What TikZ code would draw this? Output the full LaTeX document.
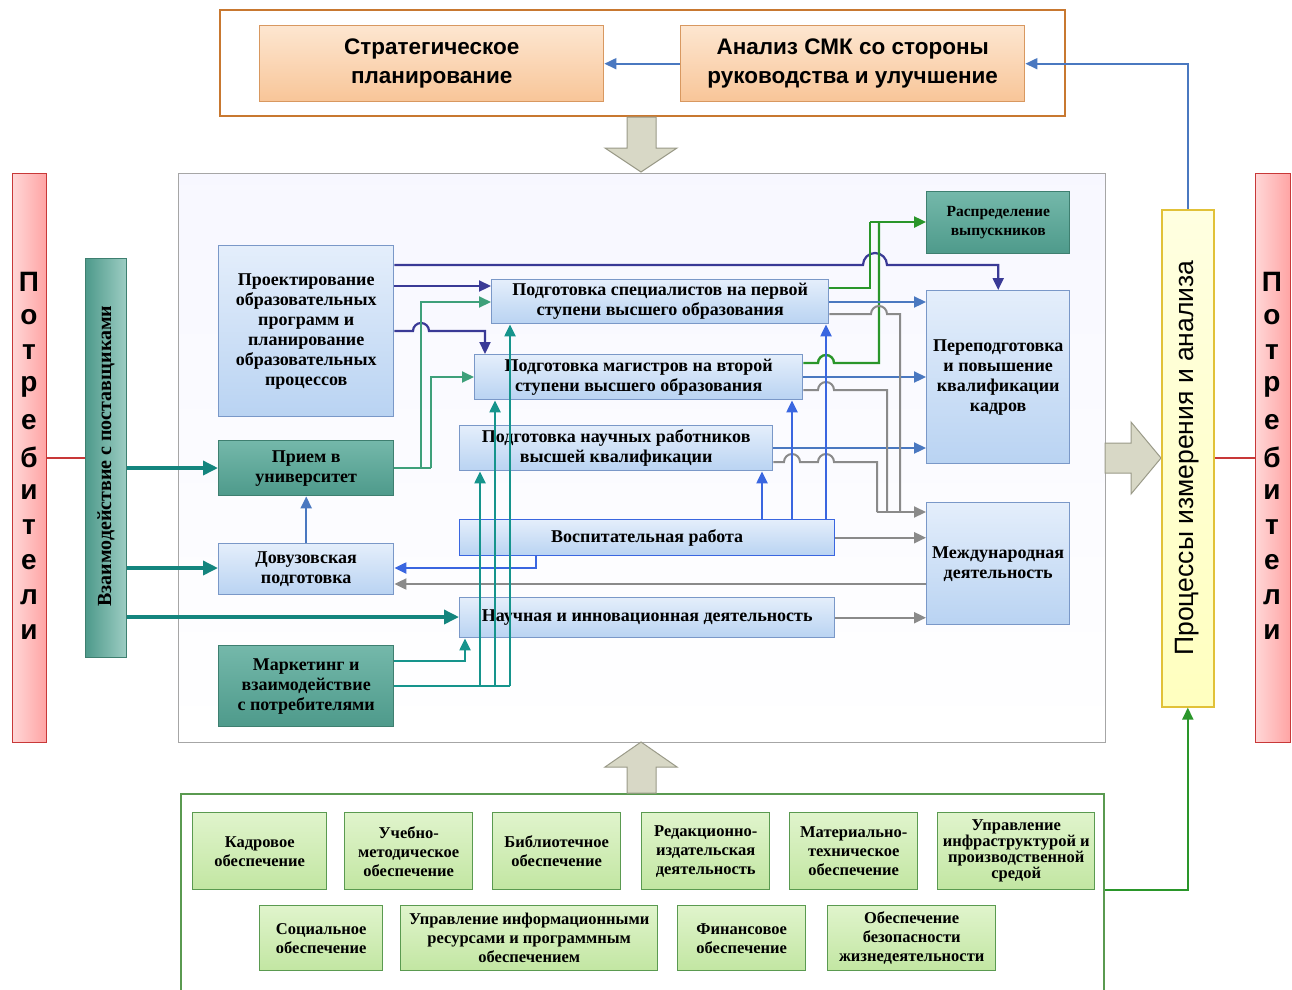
\documentclass[tikz,border=0pt]{standalone}
\usepackage{fontspec}
\setmainfont{Liberation Serif}
\newfontfamily\sansf{Liberation Sans}
\usetikzlibrary{arrows.meta}
\definecolor{navyc}{HTML}{3A3A96}
\definecolor{greenc}{HTML}{3EA07A}
\definecolor{dgreenc}{HTML}{2A962A}
\definecolor{bluec}{HTML}{4A78C0}
\definecolor{bluevc}{HTML}{3A66E0}
\definecolor{grayc}{HTML}{8A8A8A}
\definecolor{tealc}{HTML}{16948C}
\definecolor{redc}{HTML}{C83838}
\definecolor{lbdraw}{HTML}{7A98C8}
\definecolor{lbtop}{HTML}{E4EEFB}
\definecolor{lbbot}{HTML}{B9D3F2}
\definecolor{tltop}{HTML}{74B8AA}
\definecolor{tlbot}{HTML}{4E9A8B}
\definecolor{tldraw}{HTML}{3E7F70}
\definecolor{gntop}{HTML}{E0F4CC}
\definecolor{gnbot}{HTML}{C2E6A2}
\definecolor{gndraw}{HTML}{5A9A50}
\definecolor{ortop}{HTML}{FDE6D0}
\definecolor{orbot}{HTML}{F8C598}
\definecolor{ordraw}{HTML}{D89860}
\definecolor{outor}{HTML}{C87830}
\definecolor{arrfill}{HTML}{D8D8C6}
\definecolor{arrdraw}{HTML}{9A9A88}
\newcommand\mybox[7]{\node[#2, minimum width=#5pt, minimum height=#6pt] (#1) at (#3,#4) {#7};}
\begin{document}
\begin{tikzpicture}[x=1pt,y=-1pt,
  tip/.style={-{Triangle[length=12pt,width=11pt]}},
  bigtip/.style={-{Triangle[length=15pt,width=14pt]}},
  bx/.style={anchor=north west, inner sep=1pt, align=center, font=\bfseries\fontsize{18}{20}\selectfont, line width=1.4pt},
  lb/.style={bx, draw=lbdraw, top color=lbtop, bottom color=lbbot},
  tl/.style={bx, draw=tldraw, top color=tltop, bottom color=tlbot},
  gn/.style={bx, draw=gndraw, top color=gntop, bottom color=gnbot, font=\bfseries\fontsize{16.5}{19}\selectfont},
  orb/.style={bx, draw=ordraw, top color=ortop, bottom color=orbot, font=\sansf\bfseries\fontsize{22.5}{29}\selectfont},
  potlet/.style={font=\sansf\bfseries\fontsize{28}{28}\selectfont, inner sep=0pt},
  bigarr/.style={fill=arrfill, draw=arrdraw, line width=1pt},
  navyl/.style={draw=navyc, line width=2.2pt},
  greenl/.style={draw=greenc, line width=2pt},
  dgreenl/.style={draw=dgreenc, line width=2.4pt},
  bluel/.style={draw=bluec, line width=2.2pt},
  bluevl/.style={draw=bluevc, line width=2.2pt},
  grayl/.style={draw=grayc, line width=2pt},
  teall/.style={draw=tealc, line width=2.2pt},
  tealthick/.style={draw=tealc!90!black, line width=3.5pt},
  redl/.style={draw=redc, line width=2pt}
]
\useasboundingbox (0,0) rectangle (1292,989);
\fill[white] (0,0) rectangle (1292,989);

% top block
\node[anchor=north west, draw=outor, line width=1.6pt, fill=white, minimum width=845pt, minimum height=106pt, inner sep=0pt] (topbox) at (219,9) {};
\mybox{strat}{orb}{259}{25}{344}{76}{Стратегическое\\планирование}
\mybox{anal}{orb}{680}{25}{344}{76}{Анализ СМК со стороны\\руководства и улучшение}

% middle frame
\node[anchor=north west, draw=gray!70, line width=1.2pt, top color=blue!3, bottom color=white, minimum width=927pt, minimum height=569pt, inner sep=0pt] (mid) at (178,173) {};

% bottom frame
\node[anchor=north west, draw=gndraw, line width=1.5pt, fill=white, minimum width=923pt, minimum height=200pt, inner sep=0pt] (botbox) at (180,793) {};

% big arrows
\draw[bigarr] (627,117) -- (656,117) -- (656,148) -- (677,148) -- (641,172) -- (605,148) -- (627,148) -- cycle;
\draw[bigarr] (627,793) -- (656,793) -- (656,767) -- (677,767) -- (641,742) -- (605,767) -- (627,767) -- cycle;
\draw[bigarr] (1105,443) -- (1131,443) -- (1131,422) -- (1161,458) -- (1131,494) -- (1131,473) -- (1105,473) -- cycle;

% side bars
\node[anchor=north west, draw=redc, line width=1.4pt, left color=red!16, right color=red!36, minimum width=34pt, minimum height=569pt, inner sep=0pt] (potL) at (12,173) {};
\node[anchor=north west, draw=redc, line width=1.4pt, left color=red!16, right color=red!36, minimum width=35pt, minimum height=569pt, inner sep=0pt] (potR) at (1255,173) {};
\foreach \l [count=\i] in {П,о,т,р,е,б,и,т,е,л,и} {
  \node[potlet] (pl\i) at (29,247+35*\i) {\l};
  \node[potlet] (pr\i) at (1272,247+35*\i) {\l};
}
\node[anchor=north west, draw=tldraw, line width=1.4pt, left color=tlbot, right color=tltop!70!white, minimum width=41pt, minimum height=399pt, inner sep=0pt] (vz) at (85,258) {};
\node[rotate=90, font=\bfseries\fontsize{20}{20}\selectfont] (vzt) at (106,456) {Взаимодействие с поставщиками};
\node[anchor=north west, draw=yellow!50!brown, line width=1.6pt, top color=yellow!12, bottom color=yellow!25, minimum width=52pt, minimum height=497pt, inner sep=0pt] (proc) at (1161,209) {};
\node[rotate=90, font=\sansf\fontsize{26.5}{26.5}\selectfont] (proct) at (1187,458) {Процессы измерения и анализа};

% middle boxes
\mybox{proj}{lb}{218}{245}{175}{171}{Проектирование\\образовательных\\программ и\\планирование\\образовательных\\процессов}
\mybox{priem}{tl}{218}{440}{175}{55}{Прием в\\университет}
\mybox{dov}{lb}{218}{543}{175}{51}{Довузовская\\подготовка}
\mybox{mark}{tl}{218}{645}{175}{81}{Маркетинг и\\взаимодействие\\с потребителями}
\mybox{spec}{lb}{491}{279}{337}{44}{Подготовка специалистов на первой\\ступени высшего образования}
\mybox{mag}{lb}{474}{354}{328}{45}{Подготовка магистров на второй\\ступени высшего образования}
\mybox{nauch}{lb}{459}{425}{313}{45}{Подготовка научных работников\\высшей квалификации}
\mybox{vosp}{lb,draw=bluevc}{459}{519}{375}{36}{Воспитательная работа}
\mybox{nii}{lb}{459}{597}{375}{40}{Научная и инновационная деятельность}
\mybox{raspr}{tl,font=\bfseries\fontsize{15.5}{19}\selectfont}{926}{191}{143}{62}{Распределение\\выпускников}
\mybox{perep}{lb,fill=lbbot}{926}{290}{143}{173}{Переподготовка\\и повышение\\квалификации\\кадров}
\mybox{mezh}{lb}{926}{502}{143}{122}{Международная\\деятельность}

% bottom boxes
\mybox{kadr}{gn}{192}{812}{134}{77}{Кадровое\\обеспечение}
\mybox{uchm}{gn}{344}{812}{128}{77}{Учебно-\\методическое\\обеспечение}
\mybox{bibl}{gn}{492}{812}{128}{77}{Библиотечное\\обеспечение}
\mybox{redk}{gn}{641}{812}{128}{77}{Редакционно-\\издательская\\деятельность}
\mybox{matt}{gn}{789}{812}{128}{77}{Материально-\\техническое\\обеспечение}
\mybox{infr}{gn,font=\bfseries\fontsize{16.5}{16}\selectfont}{937}{812}{157}{77}{Управление\\инфраструктурой и\\производственной\\средой}
\mybox{soc}{gn}{259}{905}{123}{65}{Социальное\\обеспечение}
\mybox{info}{gn}{400}{905}{257}{65}{Управление информационными\\ресурсами и программным\\обеспечением}
\mybox{fin}{gn}{677}{905}{128}{65}{Финансовое\\обеспечение}
\mybox{bezo}{gn}{827}{905}{168}{65}{Обеспечение\\безопасности\\жизнедеятельности}

% connectors: top
\draw[bluel,line width=1.8pt,tip] (anal.west) -- (strat.east);
\draw[bluel,line width=1.8pt,tip] (proc.north) -- (proc.north |- anal.east) -- (anal.east);
\draw[dgreenl,line width=1.8pt,tip] (botbox.east |- 0,890) -- (proc.south |- 0,890) -- (proc.south);
\draw[redl] (potL.east |- 0,458) -- (vz.west |- 0,458);
\draw[redl] (proc.east |- 0,458) -- (potR.west |- 0,458);

% navy from proj
\draw[navyl,tip] ([yshift=-20pt]proj.north east) -- (863,265) arc[start angle=180,end angle=0,radius=12pt] -- (perep.north |- 0,265) -- (perep.north);
\draw[navyl,tip] ([yshift=-41pt]proj.north east) -- (spec.west |- 0,286);
\draw[navyl,tip] ([yshift=-86pt]proj.north east) -- (413,331) arc[start angle=180,end angle=0,radius=8pt] -- (485,331) -- ([xshift=11pt]mag.north west);

% green from priem
\draw[greenl] ([yshift=-28pt]priem.north east) -- (431,468);
\draw[greenl,tip] (421,468) -- (421,302) -- (spec.west |- 0,302);
\draw[greenl,tip] (431,468) -- (431,377) -- (mag.west |- 0,377);

% dark green to raspr
\draw[dgreenl] ([yshift=-9pt]spec.north east) -- (870,288) -- (870,222);
\draw[dgreenl,tip] (870,222) -- (raspr.west |- 0,222);
\draw[dgreenl] ([yshift=-9pt]mag.north east) -- (818,363) arc[start angle=180,end angle=0,radius=8pt] -- (879,363) -- (879,222);

% blue to perep
\draw[bluel,tip] ([yshift=-23pt]spec.north east) -- (perep.west |- 0,302);
\draw[bluel,tip] ([yshift=-23pt]mag.north east) -- (perep.west |- 0,377);
\draw[bluel,tip] ([yshift=-23pt]nauch.north east) -- (perep.west |- 0,448);

% gray to mezh
\draw[grayl] ([yshift=-35pt]spec.north east) -- (871,314) arc[start angle=180,end angle=0,radius=8pt] -- (900,314) -- (900,512);
\draw[grayl] ([yshift=-36pt]mag.north east) -- (818,390) arc[start angle=180,end angle=0,radius=8pt] -- (887,390) -- (887,512);
\draw[grayl] ([yshift=-37pt]nauch.north east) -- (784,462) arc[start angle=180,end angle=0,radius=8pt] -- (818,462) arc[start angle=180,end angle=0,radius=8pt] -- (877,462) -- (877,512);
\draw[grayl,tip] (877,512) -- (mezh.west |- 0,512);
\draw[grayl,tip] (vosp.east) -- (mezh.west |- vosp.east);
\draw[grayl,tip] (nii.east) -- (mezh.west |- nii.east);
\draw[grayl,tip] (mezh.west |- 0,584) -- (dov.east |- 0,584);

% blue from vosp
\draw[bluevl,tip] (vosp.north -| 762,0) -- (nauch.south -| 762,0);
\draw[bluevl,tip] (vosp.north -| 792,0) -- (mag.south -| 792,0);
\draw[bluevl,tip] (vosp.north -| 826,0) -- (spec.south -| 826,0);
\draw[bluevl,tip] (vosp.south -| 536,0) -- (536,568) -- (dov.east |- 0,568);

% dov to priem
\draw[bluel,tip] (dov.north) -- (priem.south);

% teal from vz
\draw[tealthick,bigtip] (vz.east |- 0,468) -- (priem.west |- 0,468);
\draw[tealthick,bigtip] (vz.east |- 0,568) -- (dov.west |- 0,568);
\draw[tealthick,bigtip] (vz.east |- 0,617) -- (nii.west |- 0,617);

% marketing
\draw[teall,tip] (mark.east |- 0,661) -- (465,661) -- (nii.south -| 465,0);
\draw[teall] (mark.east |- 0,686) -- (510,686);
\draw[teall,tip] (480,686) -- (nauch.south -| 480,0);
\draw[teall,tip] (495,686) -- (mag.south -| 495,0);
\draw[teall,tip] (510,686) -- (spec.south -| 510,0);
\end{tikzpicture}
\end{document}
